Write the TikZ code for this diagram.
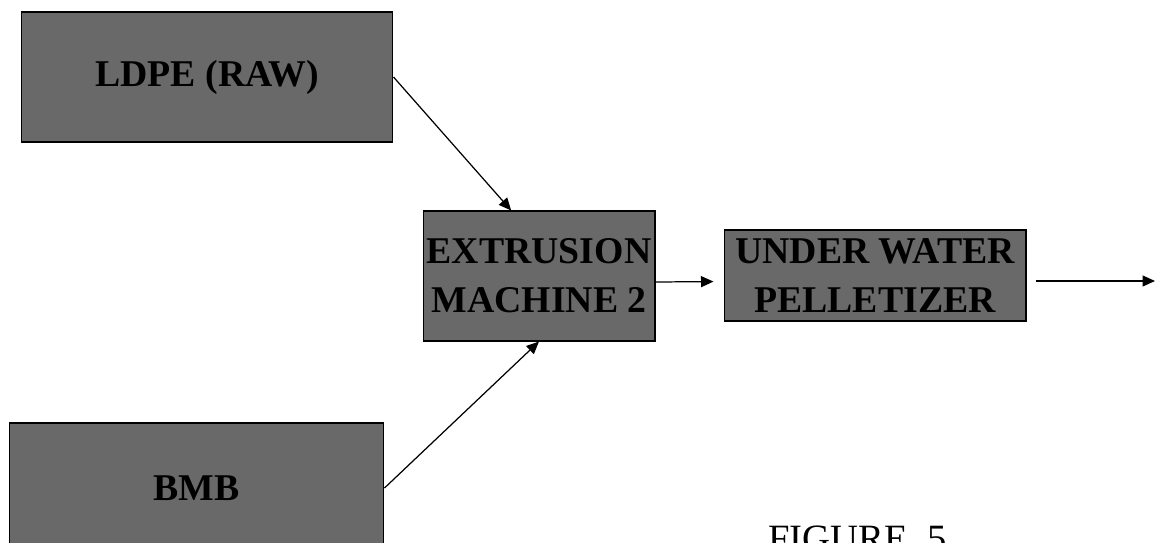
\documentclass[tikz,border=0pt]{standalone}
\usepackage{fontspec}
\setmainfont{Liberation Serif}
\usepackage{tikz}
\usetikzlibrary{arrows.meta, positioning}
\definecolor{ScreenGray}{RGB}{105, 105, 105}

\begin{document}
\begin{tikzpicture}[
    x=0.02cm, y=-0.02cm,
    every node/.style={align=center},
    unit/.style={rectangle, draw=black, fill=ScreenGray, line width=0.6pt, inner sep=0pt, font=\bfseries\fontsize{21.5}{28}\selectfont},
    arrow/.style={-{Triangle[length=0.25cm, width=0.22cm]}, draw=black, line width=0.7pt}
  ]
    \useasboundingbox (0,0) rectangle (1156,542);

    % Inputs
    \node[unit, minimum width=7.44cm, minimum height=2.6cm] (ldpe) at (207,77) {LDPE (RAW)};
    \node[unit, minimum width=7.5cm, minimum height=2.6cm] (bmb) at (196.5,488) {BMB};

    % Machines
    \node[unit, minimum width=4.64cm, minimum height=2.6cm] (ext) at (539,276) {EXTRUSION\\MACHINE 2};
    \node[unit, minimum width=6.04cm, minimum height=1.82cm] (pel) at (875,275.5) {UNDER WATER\\PELLETIZER};
    \coordinate (out) at (1155,281);

    % Caption
    \node[inner sep=0pt, anchor=base west, font=\fontsize{22}{26}\selectfont] (fig) at (768,551) {FIGURE\ \ 5};

    % Connections
    \draw[arrow] (ldpe.east) -- (ext.113);
    \draw[arrow] (bmb.east) -- (ext.south);
    \draw[arrow, shorten >=0.2cm] ([yshift=-0.12cm]ext.east) -- ([yshift=-0.12cm]pel.west);
    \draw[arrow, shorten <=0.18cm] (pel.east |- out) -- (out);
  \end{tikzpicture}
\end{document}
